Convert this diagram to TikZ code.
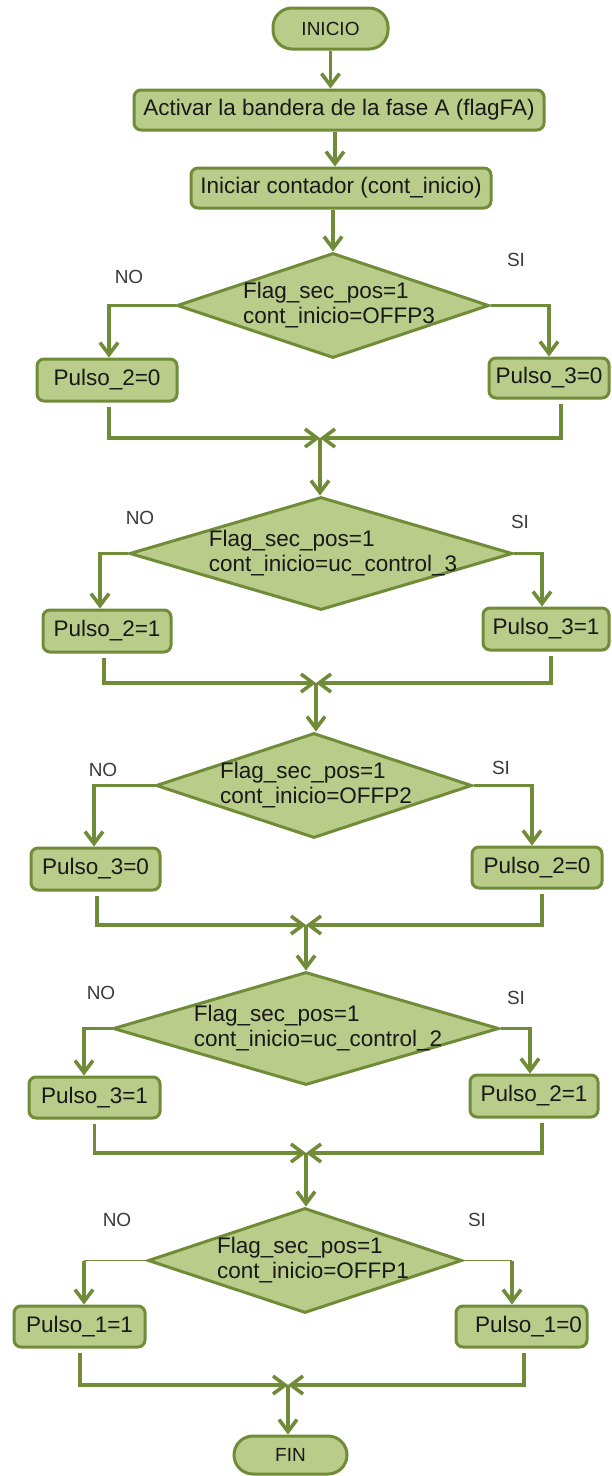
\documentclass[tikz,border=0pt]{standalone}
\usepackage{fontspec}
\setmainfont{Liberation Sans}
\usetikzlibrary{arrows.meta,shapes.geometric}
\definecolor{gfill}{RGB}{185,204,138}
\definecolor{gline}{RGB}{112,140,56}
\definecolor{txt}{RGB}{25,25,25}
\begin{document}
\begin{tikzpicture}[x=1pt,y=-1pt,
  box/.style={draw=gline, line width=3pt, fill=gfill, rounded corners=7pt, inner sep=0pt, font=\fontsize{22.5}{24}\selectfont, text=txt},
  term/.style={draw=gline, line width=3pt, fill=gfill, rounded corners=19pt, inner sep=0pt, font=\fontsize{19}{22}\selectfont, text=txt},
  dec/.style={diamond, draw=gline, line width=3pt, fill=gfill, inner sep=0pt},
  dtext/.style={align=left, font=\fontsize{22.5}{25}\selectfont, text=txt, inner sep=0pt},
  lab/.style={font=\fontsize{19}{22}\selectfont, text=txt!85},
  conn/.style={draw=gline, line width=3.6pt},
  thinconn/.style={draw=gline, line width=1.8pt},
  arr/.style={conn, -{Straight Barb[length=12pt,width=18pt]}},
  merge/.style={arr, shorten <=4pt},
]
\useasboundingbox (0,0) rectangle (611,1476);
\fill[white] (0,0) rectangle (611,1476);

% top
\node[term, minimum width=115pt, minimum height=41pt] (ini) at (330.5,28.5) {INICIO};
\node[box, minimum width=410pt, minimum height=40pt] (act) at (339,110) {Activar la bandera de la fase A (flagFA)};
\node[box, minimum width=300pt, minimum height=40pt] (cnt) at (341,188) {Iniciar contador (cont\_inicio)};

% section 1
\node[dec, minimum width=312pt, minimum height=105pt,
  label={[dtext, xshift=6pt]center:{Flag\_sec\_pos=1\\cont\_inicio=OFFP3}}] (d1) at (333,305.5) {};
\node[lab] (no1) at (129,277) {NO};
\node[lab] (si1) at (516,260) {SI};
\node[box, minimum width=140pt, minimum height=42pt] (a1) at (107,380) {Pulso\_2=0};
\node[box, minimum width=120pt, minimum height=40pt] (b1) at (549,378) {Pulso\_3=0};
\coordinate (j1) at (320,438);

% section 2
\node[dec, minimum width=383pt, minimum height=113pt,
  label={[dtext, xshift=12pt]center:{Flag\_sec\_pos=1\\cont\_inicio=uc\_control\_3}}] (d2) at (321,553.5) {};
\node[lab] (no2) at (140,518) {NO};
\node[lab] (si2) at (520,522) {SI};
\node[box, minimum width=128pt, minimum height=42pt] (a2) at (107,631) {Pulso\_2=1};
\node[box, minimum width=126pt, minimum height=42pt] (b2) at (546,629) {Pulso\_3=1};
\coordinate (j2) at (316,683);

% section 3
\node[dec, minimum width=316pt, minimum height=105pt,
  label={[dtext, xshift=2pt]center:{Flag\_sec\_pos=1\\cont\_inicio=OFFP2}}] (d3) at (314,785.5) {};
\node[lab] (no3) at (103,770) {NO};
\node[lab] (si3) at (501,768) {SI};
\node[box, minimum width=129pt, minimum height=42pt] (a3) at (95.5,869) {Pulso\_3=0};
\node[box, minimum width=130pt, minimum height=41pt] (b3) at (537,867.5) {Pulso\_2=0};
\coordinate (j3) at (306,925);

% section 4
\node[dec, minimum width=386pt, minimum height=113pt,
  label={[dtext, xshift=12pt]center:{Flag\_sec\_pos=1\\cont\_inicio=uc\_control\_2}}] (d4) at (306,1028.5) {};
\node[lab] (no4) at (101,993) {NO};
\node[lab] (si4) at (516,998) {SI};
\node[box, minimum width=131pt, minimum height=41pt] (a4) at (94.5,1097.5) {Pulso\_3=1};
\node[box, minimum width=128pt, minimum height=42pt] (b4) at (534,1096) {Pulso\_2=1};
\coordinate (j4) at (306,1153);

% section 5
\node[dec, minimum width=314pt, minimum height=105pt,
  label={[dtext, xshift=8pt]center:{Flag\_sec\_pos=1\\cont\_inicio=OFFP1}}] (d5) at (305,1260.5) {};
\node[lab] (no5) at (117,1220) {NO};
\node[lab] (si5) at (477,1220) {SI};
\node[box, minimum width=131pt, minimum height=41pt] (a5) at (79.5,1326.5) {Pulso\_1=1};
\node[box, minimum width=131pt, minimum height=41pt, text width=121pt, align=right] (b5) at (521.5,1326.5) {\raisebox{4pt}{Pulso\_1=0}};
\coordinate (j5) at (288,1385);
\node[term, minimum width=113pt, minimum height=38pt] (fin) at (290.5,1455) {FIN};

% corners for section 5 branches
\coordinate (c5l) at (84,1260.5);
\coordinate (c5r) at (512,1260.5);

% connectors top
\draw[arr] (ini.south) -- (ini.south |- act.north);
\draw[arr] ([xshift=-4pt]act.south) -- ([xshift=-4pt]act.south |- cnt.north);
\draw[arr] (d1.north |- cnt.south) -- (d1.north);

% section 1
\draw[arr] (d1.west) -| ([xshift=2pt]a1.north);
\draw[arr] (d1.east) -| (b1.north);
\draw[merge] ([xshift=2pt]a1.south) |- (j1);
\draw[merge] ([xshift=12pt]b1.south) |- (j1);
\draw[arr] (j1) -- (j1 |- d2.north);

% section 2
\draw[arr] (d2.west) -| ([xshift=-7pt]a2.north);
\draw[arr] (d2.east) -| ([xshift=-4pt]b2.north);
\draw[merge] ([xshift=-3pt]a2.south) |- (j2);
\draw[merge] ([xshift=5pt]b2.south) |- (j2);
\draw[arr] (j2) -- (j2 |- d3.north);

% section 3
\draw[arr] (d3.west) -| ([xshift=-1.5pt]a3.north);
\draw[arr] (d3.east) -| ([xshift=-5pt]b3.north);
\draw[merge] ([xshift=1.5pt]a3.south) |- (j3);
\draw[merge] ([xshift=5pt]b3.south) |- (j3);
\draw[arr] (j3) -- (j3 |- d4.north);

% section 4
\draw[arr] (d4.west) -| ([xshift=-10.5pt]a4.north);
\draw[arr] (d4.east) -| ([xshift=-4pt]b4.north);
\draw[merge] (a4.south) |- (j4);
\draw[merge] ([xshift=8pt]b4.south) |- (j4);
\draw[arr] (j4) -- (j4 |- d5.north);

% section 5
\draw[thinconn] (d5.west) -- (c5l);
\draw[arr] (c5l) -- (c5l |- a5.north);
\draw[thinconn] (d5.east) -- (c5r);
\draw[arr] (c5r) -- (c5r |- b5.north);
\draw[merge] ([xshift=0.5pt]a5.south) |- (j5);
\draw[merge] ([xshift=2.5pt]b5.south) |- (j5);
\draw[arr] (j5) -- (j5 |- fin.north);
\end{tikzpicture}
\end{document}
